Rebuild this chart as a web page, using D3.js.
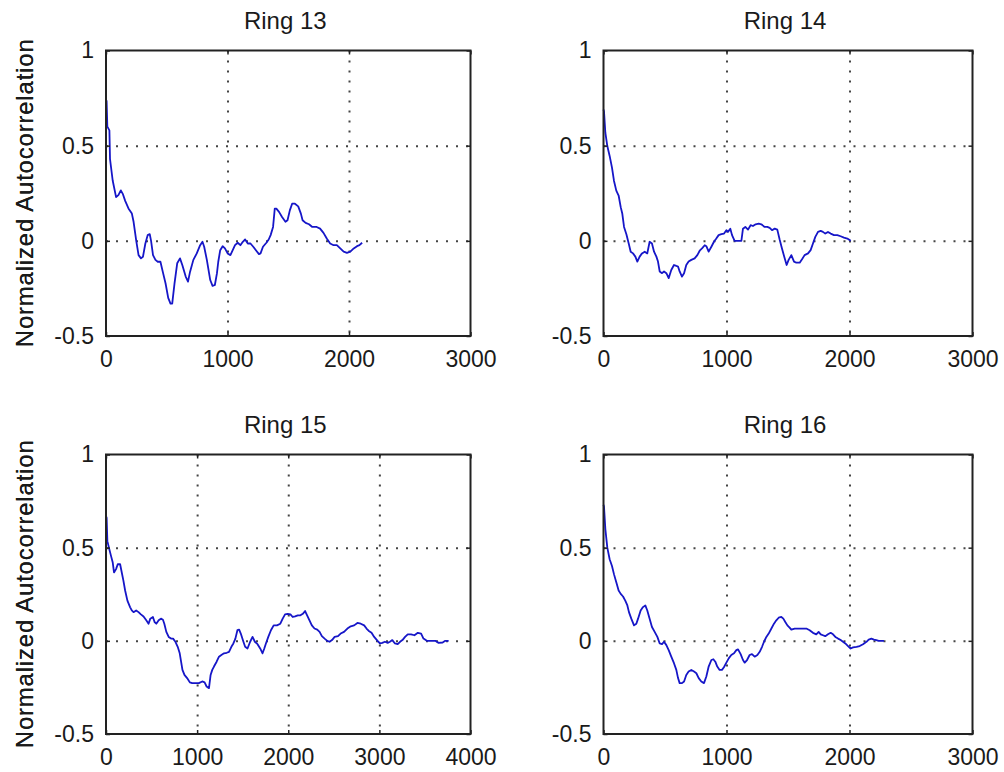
<!DOCTYPE html>
<html>
<head>
<meta charset="utf-8">
<script src="https://cdnjs.cloudflare.com/ajax/libs/d3/7.8.5/d3.min.js"></script>
<style>
  body { margin: 0; background: #fff; }
  svg { display: block; font-family: "Liberation Sans", Arial, Helvetica, sans-serif; }
  .tick text { fill: #1a1a1a; font-size: 23px; }
  .grid line { stroke: #444; stroke-width: 2; stroke-dasharray: 2 8; }
</style>
</head>
<body>
<svg id="chart" width="1004" height="772"></svg>
<script>
// Autocorrelation curves, [lag, value]
const ring13 = [[0,0.74],[5,0.735],[11,0.6],[28,0.58],[33,0.43],[55,0.317],[83,0.23],[102,0.24],[122,0.265],[138,0.247],[158,0.21],[185,0.17],[213,0.143],[227,0.10],[249,0.0],[268,-0.075],[288,-0.092],[304,-0.084],[324,-0.014],[343,0.03],[360,0.035],[371,0.0],[387,-0.075],[407,-0.10],[426,-0.11],[448,-0.11],[467,-0.162],[490,-0.223],[512,-0.30],[531,-0.33],[545,-0.33],[564,-0.223],[586,-0.118],[609,-0.092],[628,-0.127],[656,-0.188],[675,-0.214],[692,-0.162],[719,-0.10],[747,-0.066],[775,-0.023],[794,-0.005],[808,-0.031],[830,-0.10],[858,-0.206],[877,-0.237],[896,-0.232],[913,-0.171],[924,-0.11],[940,-0.049],[960,-0.028],[979,-0.04],[1001,-0.066],[1024,-0.075],[1043,-0.049],[1062,-0.023],[1084,-0.01],[1106,-0.023],[1126,-0.005],[1145,0.007],[1167,-0.014],[1189,-0.014],[1212,-0.031],[1237,-0.052],[1259,-0.07],[1272,-0.066],[1292,-0.031],[1320,-0.01],[1339,0.007],[1355,0.03],[1375,0.073],[1389,0.169],[1402,0.169],[1424,0.152],[1449,0.125],[1477,0.10],[1494,0.108],[1513,0.16],[1532,0.195],[1555,0.195],[1582,0.181],[1604,0.143],[1618,0.108],[1643,0.094],[1671,0.087],[1698,0.073],[1734,0.073],[1762,0.064],[1790,0.042],[1817,0.012],[1845,-0.014],[1873,-0.023],[1900,-0.023],[1928,-0.04],[1956,-0.057],[1983,-0.063],[2011,-0.057],[2039,-0.04],[2066,-0.028],[2086,-0.023],[2108,-0.01]];

const ring14 = [[0,0.69],[4,0.68],[15,0.568],[31,0.498],[50,0.446],[69,0.385],[85,0.316],[104,0.264],[123,0.238],[140,0.177],[153,0.142],[167,0.073],[186,0.035],[205,-0.014],[221,-0.057],[240,-0.066],[259,-0.083],[275,-0.109],[294,-0.083],[313,-0.066],[335,-0.057],[356,-0.066],[375,-0.005],[394,-0.014],[411,-0.057],[430,-0.083],[443,-0.109],[457,-0.161],[476,-0.17],[492,-0.161],[511,-0.17],[530,-0.196],[551,-0.153],[573,-0.127],[592,-0.132],[606,-0.135],[619,-0.161],[638,-0.188],[655,-0.17],[673,-0.127],[692,-0.109],[714,-0.10],[741,-0.092],[763,-0.075],[782,-0.052],[801,-0.04],[823,-0.023],[836,-0.028],[855,-0.057],[877,-0.031],[898,-0.005],[917,0.012],[936,0.03],[958,0.035],[980,0.038],[999,0.056],[1012,0.047],[1031,0.064],[1045,0.03],[1066,0.0],[1093,0.0],[1121,0.0],[1134,0.064],[1153,0.073],[1175,0.059],[1196,0.082],[1215,0.078],[1237,0.087],[1262,0.09],[1283,0.087],[1310,0.073],[1332,0.073],[1351,0.068],[1370,0.056],[1392,0.064],[1413,0.059],[1432,0.007],[1451,-0.04],[1473,-0.092],[1489,-0.127],[1505,-0.10],[1527,-0.075],[1549,-0.109],[1568,-0.115],[1595,-0.115],[1614,-0.097],[1635,-0.075],[1663,-0.066],[1684,-0.049],[1703,-0.014],[1722,0.021],[1744,0.047],[1766,0.052],[1784,0.047],[1803,0.038],[1825,0.047],[1847,0.038],[1874,0.03],[1901,0.03],[1928,0.024],[1955,0.017],[1982,0.012],[2010,0.0]];

const ring15 = [[0,0.67],[7,0.66],[15,0.535],[37,0.49],[55,0.456],[74,0.42],[88,0.367],[110,0.385],[129,0.411],[155,0.411],[173,0.367],[191,0.323],[210,0.27],[235,0.216],[265,0.18],[283,0.163],[302,0.154],[331,0.163],[357,0.154],[383,0.142],[412,0.131],[442,0.11],[467,0.092],[486,0.119],[515,0.128],[533,0.101],[552,0.092],[578,0.11],[603,0.119],[625,0.113],[640,0.092],[662,0.048],[688,0.021],[714,0.012],[736,0.012],[762,-0.005],[787,-0.032],[809,-0.067],[824,-0.112],[839,-0.156],[861,-0.183],[890,-0.2],[920,-0.223],[946,-0.227],[982,-0.227],[1019,-0.227],[1056,-0.218],[1082,-0.223],[1104,-0.245],[1130,-0.254],[1148,-0.183],[1166,-0.156],[1185,-0.138],[1214,-0.112],[1240,-0.085],[1266,-0.076],[1295,-0.067],[1325,-0.064],[1350,-0.059],[1376,-0.032],[1398,-0.014],[1420,0.012],[1442,0.057],[1461,0.06],[1479,0.039],[1508,-0.005],[1527,-0.032],[1553,-0.041],[1582,-0.005],[1608,0.021],[1634,-0.005],[1663,-0.018],[1692,-0.041],[1718,-0.067],[1737,-0.041],[1755,-0.014],[1781,0.021],[1810,0.057],[1840,0.083],[1876,0.083],[1913,0.092],[1939,0.119],[1965,0.142],[1994,0.145],[2024,0.142],[2049,0.128],[2075,0.131],[2105,0.137],[2134,0.137],[2160,0.145],[2185,0.16],[2207,0.137],[2233,0.11],[2259,0.083],[2288,0.066],[2318,0.06],[2344,0.048],[2369,0.025],[2399,0.012],[2428,0.0],[2454,-0.005],[2480,0.004],[2509,0.021],[2546,0.025],[2575,0.039],[2612,0.048],[2649,0.066],[2686,0.078],[2723,0.083],[2759,0.096],[2796,0.092],[2833,0.083],[2859,0.066],[2884,0.053],[2914,0.043],[2943,0.021],[2980,0.0],[3006,-0.014],[3032,-0.011],[3061,-0.005],[3091,-0.011],[3116,-0.005],[3142,0.004],[3171,-0.014],[3201,-0.018],[3227,-0.005],[3253,0.004],[3282,0.021],[3311,0.035],[3348,0.035],[3385,0.03],[3422,0.043],[3458,0.039],[3484,0.012],[3521,0.0],[3569,0.0],[3613,0.0],[3650,-0.011],[3694,-0.009],[3723,0.0],[3760,0.0]];

const ring16 = [[0,0.73],[4,0.72],[15,0.6],[31,0.5],[50,0.438],[69,0.402],[85,0.358],[104,0.314],[123,0.27],[140,0.252],[159,0.238],[177,0.216],[194,0.19],[207,0.154],[226,0.119],[248,0.083],[267,0.092],[281,0.119],[302,0.163],[321,0.181],[340,0.19],[356,0.163],[375,0.119],[394,0.074],[416,0.048],[438,0.021],[457,-0.014],[476,-0.018],[492,-0.005],[511,-0.023],[530,-0.05],[551,-0.085],[573,-0.12],[592,-0.156],[606,-0.2],[619,-0.227],[638,-0.227],[655,-0.218],[673,-0.183],[692,-0.165],[714,-0.156],[736,-0.165],[755,-0.174],[774,-0.2],[795,-0.218],[817,-0.227],[836,-0.191],[855,-0.138],[877,-0.103],[893,-0.099],[909,-0.112],[925,-0.138],[944,-0.156],[963,-0.156],[979,-0.142],[999,-0.117],[1018,-0.094],[1039,-0.076],[1061,-0.067],[1080,-0.05],[1094,-0.046],[1115,-0.071],[1134,-0.103],[1148,-0.117],[1167,-0.103],[1188,-0.076],[1207,-0.071],[1229,-0.085],[1251,-0.076],[1270,-0.059],[1289,-0.032],[1305,-0.005],[1324,0.021],[1343,0.039],[1365,0.066],[1386,0.092],[1405,0.11],[1424,0.124],[1446,0.128],[1462,0.119],[1478,0.101],[1495,0.083],[1513,0.071],[1527,0.06],[1554,0.066],[1581,0.066],[1614,0.066],[1649,0.066],[1676,0.057],[1703,0.043],[1730,0.035],[1749,0.048],[1766,0.035],[1784,0.03],[1803,0.025],[1825,0.035],[1847,0.043],[1866,0.035],[1885,0.021],[1907,0.012],[1928,0.004],[1947,-0.005],[1966,-0.014],[1988,-0.028],[2009,-0.041],[2029,-0.035],[2057,-0.032],[2083,-0.028],[2110,-0.018],[2138,-0.005],[2156,0.007],[2178,0.012],[2199,0.007],[2218,0.004],[2237,0.0],[2258,0.0],[2280,0.0]];

// Titles and ticks
const titles = ["Ring 13", "Ring 14", "Ring 15", "Ring 16"];
const yTicks = [-0.5, 0, 0.5, 1];
const xTicks3000 = [0, 1000, 2000, 3000];
const xTicks4000 = [0, 1000, 2000, 3000, 4000];
const yLabel = "Normalized Autocorrelation";

// Panel boxes on the page (pixels)
const panels = [
  { data: ring13, title: titles[0], xTicks: xTicks3000, left: 106,   right: 470.5, top: 50.5,  bottom: 336 },
  { data: ring14, title: titles[1], xTicks: xTicks3000, left: 603.5, right: 972.5, top: 50.5,  bottom: 336 },
  { data: ring15, title: titles[2], xTicks: xTicks4000, left: 106,   right: 470.5, top: 454.5, bottom: 734 },
  { data: ring16, title: titles[3], xTicks: xTicks3000, left: 603.5, right: 972.5, top: 454.5, bottom: 734 }
];

const svg = d3.select("#chart");
svg.append("rect").attr("width", 1004).attr("height", 772).attr("fill", "#fff");

panels.forEach(p => {
  const w = p.right - p.left;
  const h = p.bottom - p.top;
  const x = d3.scaleLinear().domain(d3.extent(p.xTicks)).range([0, w]);
  const y = d3.scaleLinear().domain([-0.5, 1]).range([h, 0]);

  const g = svg.append("g").attr("transform", `translate(${p.left},${p.top})`);

  // dotted grid on the inner ticks
  g.append("g").attr("class", "grid")
    .call(d3.axisBottom(x).tickValues(p.xTicks.slice(1, -1)).tickSize(h).tickFormat(""))
    .call(a => a.select(".domain").remove());
  g.append("g").attr("class", "grid")
    .call(d3.axisLeft(y).tickValues(yTicks.slice(1, -1)).tickSize(-w).tickFormat(""))
    .call(a => a.select(".domain").remove());

  // the curve
  const line = d3.line().x(d => x(d[0])).y(d => y(d[1]));
  g.append("path")
    .datum(p.data)
    .attr("fill", "none")
    .attr("stroke", "#1616c8")
    .attr("stroke-width", 1.8)
    .attr("stroke-linejoin", "round")
    .attr("d", line);

  // axes with inward ticks, labels on left and bottom
  const tickStyle = a => {
    a.select(".domain").remove();
    a.selectAll(".tick line").attr("stroke", "#222").attr("stroke-width", 1.5);
  };
  g.append("g")
    .call(d3.axisLeft(y).tickValues(yTicks).tickSize(-4).tickPadding(12).tickFormat(d => String(d)))
    .call(tickStyle);
  g.append("g").attr("transform", `translate(${w},0)`)
    .call(d3.axisRight(y).tickValues(yTicks).tickSize(-4).tickFormat(""))
    .call(tickStyle);
  g.append("g").attr("transform", `translate(0,${h})`)
    .call(d3.axisBottom(x).tickValues(p.xTicks).tickSize(-4).tickPadding(15).tickFormat(d => String(d)))
    .call(tickStyle);
  g.append("g")
    .call(d3.axisTop(x).tickValues(p.xTicks).tickSize(-4).tickFormat(""))
    .call(tickStyle);
  g.selectAll(".tick text").attr("font-family", null).attr("font-size", null);

  // box
  g.append("rect")
    .attr("width", w).attr("height", h)
    .attr("fill", "none")
    .attr("stroke", "#222")
    .attr("stroke-width", 2);

  // title
  g.append("text")
    .attr("x", w / 2 - 3)
    .attr("y", -22)
    .attr("text-anchor", "middle")
    .attr("font-size", 24)
    .attr("fill", "#1a1a1a")
    .text(p.title);

  // y label
  g.append("text")
    .attr("transform", `translate(${33 - p.left},${h / 2}) rotate(-90)`)
    .attr("text-anchor", "middle")
    .attr("font-size", 24)
    .attr("textLength", 308)
    .attr("lengthAdjust", "spacing")
    .attr("fill", "#1a1a1a")
    .text(yLabel);
});
</script>
</body>
</html>
